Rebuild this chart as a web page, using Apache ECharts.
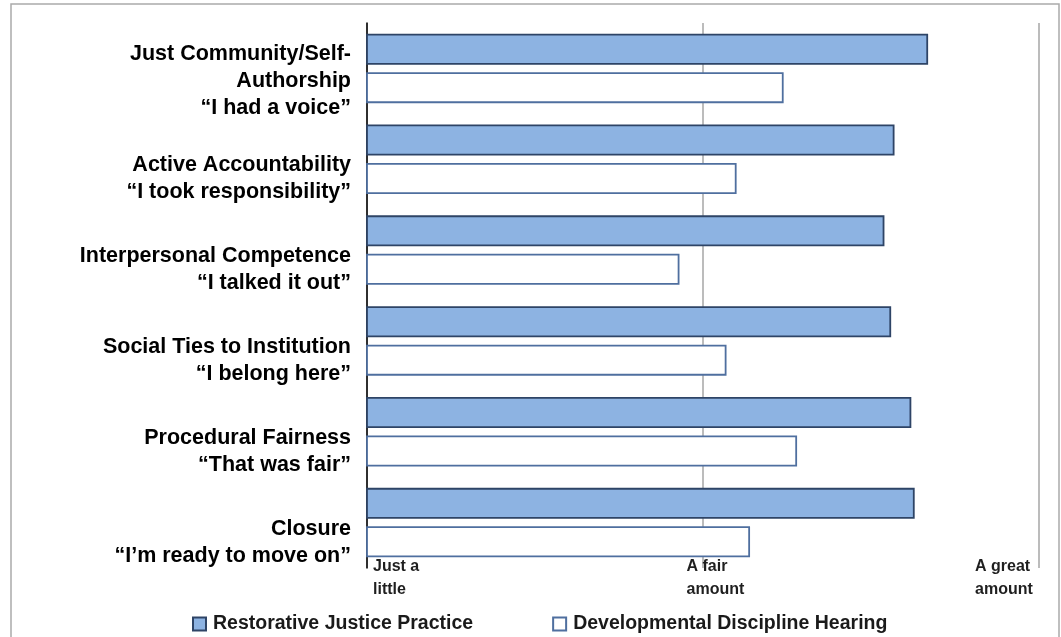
<!DOCTYPE html>
<html>
<head>
<meta charset="utf-8">
<script src="https://cdn.jsdelivr.net/npm/echarts@6/dist/echarts.min.js"></script>
<style>
html,body{margin:0;padding:0;background:#fff;}
#c{width:1061px;height:637px;}
</style>
</head>
<body>
<div id="c"></div>
<script>
const categories = [
  "Just Community/Self-\nAuthorship\n“I had a voice”",
  "Active Accountability\n“I took responsibility”",
  "Interpersonal Competence\n“I talked it out”",
  "Social Ties to Institution\n“I belong here”",
  "Procedural Fairness\n“That was fair”",
  "Closure\n“I’m ready to move on”"
];
const seriesNames = ["Restorative Justice Practice", "Developmental Discipline Hearing"];
const restorative = [2.67, 2.57, 2.54, 2.56, 2.62, 2.63];
const developmental = [2.24, 2.10, 1.93, 2.07, 2.28, 2.14];
const tickLabels = {1: ["Just a", "little"], 2: ["A fair", "amount"], 3: ["A great", "amount"]};

const FONT = 'Liberation Sans, Arial, sans-serif';
const chart = echarts.init(document.getElementById('c'), null, {renderer: 'canvas'});
const option = {
  animation: false,
  backgroundColor: '#fff',
  graphic: [{
    type: 'rect', silent: true, z: 0,
    shape: {x: 11, y: 4, width: 1048, height: 700},
    style: {fill: 'none', stroke: '#ababab', lineWidth: 1.5}
  }],
  grid: {left: 367, right: 22, top: 23, bottom: 69, containLabel: false},
  legend: {
    data: seriesNames,
    left: 187, top: 609,
    itemWidth: 13, itemHeight: 13, itemGap: 79,
    icon: 'rect',
    textStyle: {fontFamily: FONT, fontWeight: 'bold', fontSize: 19.5, color: '#1a1a1a', padding: [0,0,0,2]}
  },
  xAxis: {
    type: 'value', min: 1, max: 3, interval: 1,
    axisLine: {show: false}, axisTick: {show: false},
    splitLine: {show: true, lineStyle: {color: '#a6a6a6', width: 1.5}},
    axisLabel: {
      margin: -13,
      verticalAlign: 'top',
      alignMinLabel: 'left', alignMaxLabel: 'right',
      fontFamily: FONT, fontWeight: 'bold', fontSize: 16, lineHeight: 23, color: '#1f1f1f',
      formatter: function (v) {
        const key = v === 1 ? 'a' : (v === 2 ? 'm' : 'g');
        const t = tickLabels[v];
        if (!t) return '';
        return '{' + key + '|' + t[0] + '}\n{' + key + '|' + t[1] + '}';
      },
      rich: {
        a: {fontFamily: FONT, fontWeight: 'bold', fontSize: 16, lineHeight: 23, color: '#1f1f1f', padding: [0,0,0,6]},
        m: {fontFamily: FONT, fontWeight: 'bold', fontSize: 16, lineHeight: 23, color: '#1f1f1f', width: 63, align: 'left', padding: [0,0,0,30]},
        g: {fontFamily: FONT, fontWeight: 'bold', fontSize: 16, lineHeight: 23, color: '#1f1f1f', width: 62, align: 'left', padding: [0,2,0,0]}
      }
    }
  },
  yAxis: {
    type: 'category', data: categories, inverse: true,
    axisTick: {show: false},
    axisLine: {show: true, lineStyle: {color: '#000', width: 1.5}},
    axisLabel: {
      interval: 0,
      margin: 16,
      fontFamily: FONT, fontWeight: 'bold', fontSize: 21.5, lineHeight: 27, color: '#000',
      align: 'right',
      formatter: function (v) {
        const lines = v.split('\n');
        const sp = lines.length >= 3 ? 's3' : 's2';
        return '{' + sp + '| }\n' + lines.map(function (l) { return '{t|' + l + '}'; }).join('\n');
      },
      rich: {
        s2: {fontSize: 10, lineHeight: 39},
        s3: {fontSize: 10, lineHeight: 26},
        t: {fontFamily: FONT, fontWeight: 'bold', fontSize: 21.5, lineHeight: 27, color: '#000'}
      }
    }
  },
  series: [
    {
      name: seriesNames[0], type: 'bar', data: restorative,
      barWidth: 31, barGap: '24%',
      itemStyle: {color: '#8db3e2', borderColor: '#2e4466', borderWidth: 1.8}
    },
    {
      name: seriesNames[1], type: 'bar', data: developmental,
      barWidth: 31,
      itemStyle: {color: '#ffffff', borderColor: '#4f6f9f', borderWidth: 1.8}
    }
  ]
};
chart.setOption(option);
</script>
</body>
</html>
